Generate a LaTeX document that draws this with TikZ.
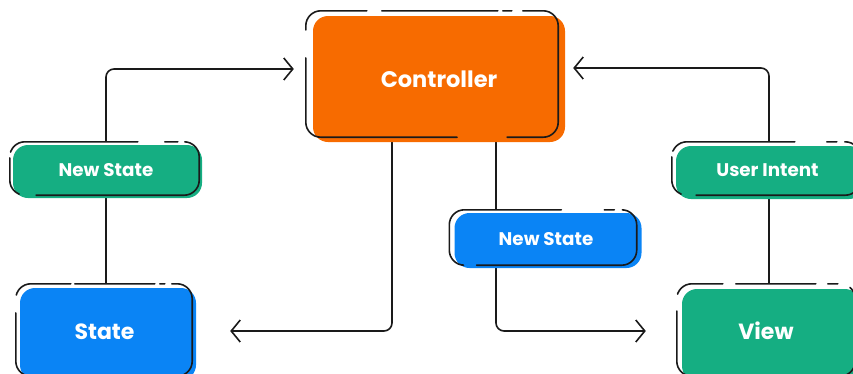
\documentclass[tikz,border=0pt]{standalone}
\usepackage{fontspec}
\setmainfont{Poppins}
\usetikzlibrary{arrows.meta,backgrounds}
\definecolor{corange}{HTML}{F76B00}
\definecolor{cgreen}{HTML}{15AE82}
\definecolor{cblue}{HTML}{0A84F5}
\definecolor{ink}{HTML}{1A1A1A}
\tikzset{
  box/.style={rounded corners=15pt, inner sep=0pt, text=white, font=\bfseries},
  sketch/.style={draw=ink, line width=1.6pt, rounded corners=15pt, line cap=round},
  conn/.style={draw=ink, line width=1.6pt, rounded corners=8pt},
  arr/.style={conn, -{Straight Barb[length=9pt,width=22pt,line width=1.6pt]}},
  smalltext/.style={font=\bfseries\fontsize{18.3}{21}\selectfont},
  bigtext/.style={font=\bfseries\fontsize{22}{26}\selectfont}
}
% #1 node, #2 xshift, #3 yshift, #4 dash pattern
\newcommand\sketchbox[4]{%
  \draw[sketch, dash pattern=#4]
    ([xshift=#2+30pt,yshift=#3]#1.north west) -| ([xshift=#2,yshift=#3]#1.south east)
    -| ([xshift=#2,yshift=#3]#1.north west) -- cycle;}
\begin{document}
\begin{tikzpicture}[x=1pt,y=-1pt]
\useasboundingbox (0,0) rectangle (853,373);
% filled boxes
\node[box, fill=corange, minimum width=252pt, minimum height=126pt, font=\bfseries\fontsize{22.5}{26}\selectfont] (ctl) at (439,79) {\raisebox{-2pt}{Controller}};
\node[box, fill=cgreen, minimum width=189pt, minimum height=53pt, smalltext] (nsl) at (107.5,171.5) {\raisebox{3pt}{New State}\hspace*{3pt}};
\node[box, fill=cblue, minimum width=176pt, minimum height=92pt, bigtext] (st) at (108,334) {\raisebox{4pt}{State}\hspace*{7pt}};
\node[box, fill=cblue, minimum width=187pt, minimum height=55pt, smalltext] (nsm) at (548,240.5) {\raisebox{3pt}{New State}\hspace*{4pt}};
\node[box, fill=cgreen, minimum width=188pt, minimum height=53pt, smalltext] (ui) at (770,172.5) {\raisebox{4pt}{User Intent}\hspace*{5pt}};
\node[box, fill=cgreen, minimum width=178pt, minimum height=92pt, bigtext] (vw) at (771,335) {\raisebox{9pt}{View}\hspace*{10pt}};
% sketchy outlines
\sketchbox{ctl}{-7pt}{5pt}{on 16pt off 15pt on 116pt off 5pt on 9pt off 11pt on 200pt off 50pt on 224pt off 28pt on 70pt}
\sketchbox{nsl}{-3pt}{3pt}{on 83pt off 27pt on 13pt off 7pt on 218pt off 17pt on 40pt off 6pt on 60pt}
\sketchbox{st}{-4pt}{4pt}{on 10pt off 4pt on 80pt off 5pt on 5pt off 7pt on 333pt off 18pt on 80pt}
\sketchbox{nsm}{-5pt}{3pt}{on 67pt off 43pt on 10pt off 8pt on 217pt off 13pt on 120pt}
\sketchbox{ui}{-4pt}{4pt}{on 78pt off 32pt on 10pt off 8pt on 220pt off 15pt on 41pt off 6pt on 60pt}
\sketchbox{vw}{-5pt}{5pt}{on 1pt off 13pt on 80pt off 12pt on 10pt off 13pt on 321pt off 17pt on 60pt}
% connectors
\begin{scope}[on background layer]
\draw[arr] ([xshift=-1.5pt,yshift=3pt]nsl.north) |- ([xshift=-19pt,yshift=10pt]ctl.west);
\draw[conn] ([xshift=-1.5pt,yshift=3pt]nsl.south) -- ([xshift=-2pt,yshift=4pt]st.north);
\draw[arr] ([xshift=-1pt,yshift=4pt]ui.north) |- ([xshift=8pt,yshift=11pt]ctl.east);
\draw[conn] ([xshift=-1pt,yshift=4pt]ui.south) -- ([xshift=-2pt,yshift=5pt]vw.north);
\draw[arr] ([xshift=-47pt]ctl.south) |- ([xshift=34pt,yshift=3pt]st.east);
\draw[conn] ([xshift=57pt]ctl.south) -- ([xshift=-52pt,yshift=3pt]nsm.north);
\draw[arr] ([xshift=-52pt,yshift=3pt]nsm.south) |- ([xshift=-36pt,yshift=4pt]vw.west);
\end{scope}
\end{tikzpicture}
\end{document}
